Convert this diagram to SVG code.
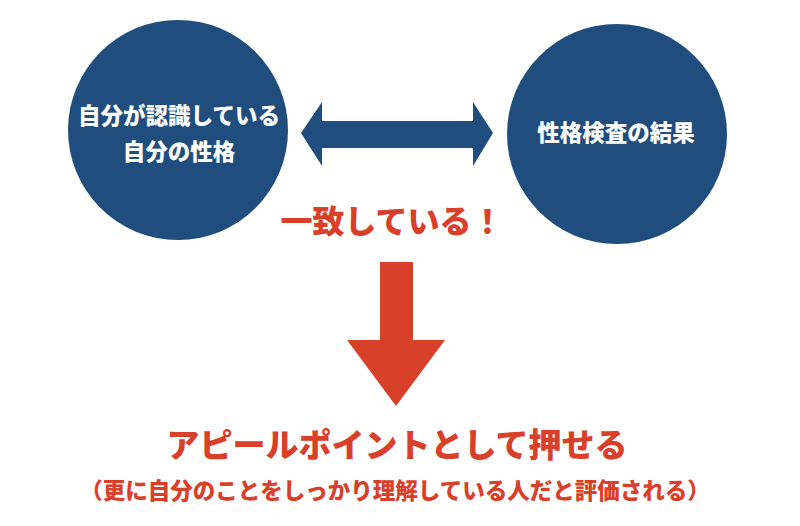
<svg xmlns="http://www.w3.org/2000/svg" width="800" height="526" viewBox="0 0 800 526">
<style>
.c{fill:#1f4e7e}
.w{fill:#fff;font-family:"Noto Sans CJK JP",sans-serif;font-weight:900;font-size:22.5px;text-anchor:middle}
.r{fill:#d9402a;font-family:"Noto Sans CJK JP",sans-serif;font-weight:900;text-anchor:middle}
</style>
<rect width="800" height="526" fill="#fff"/>
<g id="n1"><circle class="c" cx="178" cy="130" r="110"/><text class="w" x="179" y="124">自分が認識している</text><text class="w" x="179" y="160">自分の性格</text></g>
<g id="n2"><circle class="c" cx="617" cy="134" r="110"/><text class="w" x="616" y="141">性格検査の結果</text></g>
<g id="connectors">
<polygon class="c" points="301,133 322,102 322,121 473,121 473,102 493,133 473,166 473,148 322,148 322,166"/>
<polygon fill="#d9402a" points="380,262 413,262 413,340 445,340 396,406 347,340 380,340"/>
</g>
<text class="r" x="392" y="233" font-size="32">一致している！</text>
<text class="r" x="397" y="457" font-size="33">アピールポイントとして押せる</text>
<text class="r" x="395" y="499" font-size="22.5">（更に自分のことをしっかり理解している人だと評価される）</text>
</svg>
